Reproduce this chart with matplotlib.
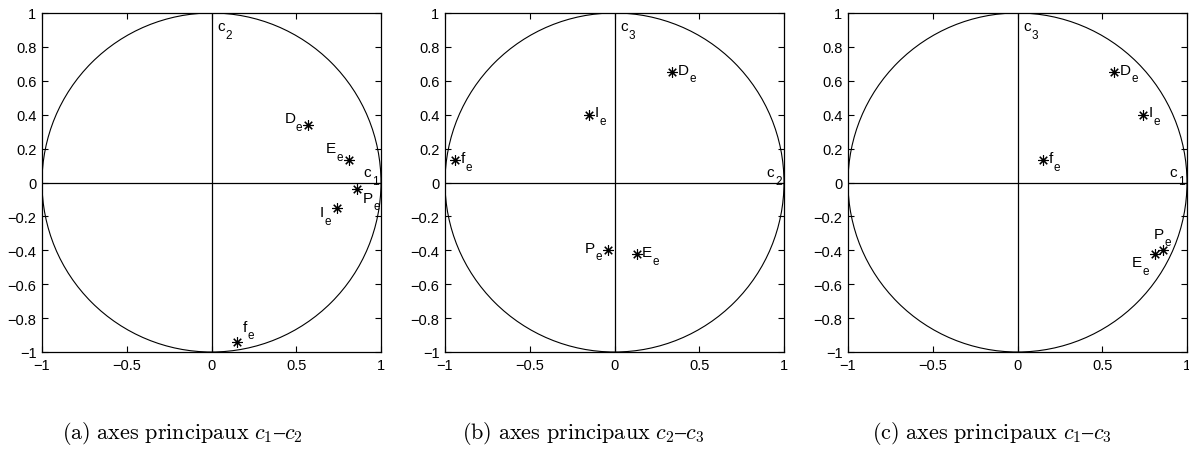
import matplotlib
matplotlib.use("Agg")
import matplotlib.pyplot as plt
from matplotlib.patches import Circle

plt.rcParams['font.family'] = ['Liberation Sans', 'DejaVu Sans']

# coordinates of the variables on the principal axes
names = ['D', 'E', 'P', 'I', 'f']
c1 = [0.57, 0.81, 0.86, 0.74, 0.15]
c2 = [0.34, 0.13, -0.04, -0.15, -0.94]
c3 = [0.65, -0.42, -0.40, 0.40, 0.13]

xticks = [-1, -0.5, 0, 0.5, 1]
yticks = [-1, -0.8, -0.6, -0.4, -0.2, 0, 0.2, 0.4, 0.6, 0.8, 1]

panels = [
    (c1, c2, ('c', '1'), ('c', '2'), '(a)', 'c_1', 'c_2'),
    (c2, c3, ('c', '2'), ('c', '3'), '(b)', 'c_2', 'c_3'),
    (c1, c3, ('c', '1'), ('c', '3'), '(c)', 'c_1', 'c_3'),
]

# label offsets in points (dx, dy, ha) for each panel / variable
offsets = [
    {'D': (-4, 5, 'right'), 'E': (-4, 9, 'right'),
     'P': (4, -6, 'left'), 'I': (-4, -3, 'right'),
     'f': (4, 11, 'left')},
    {'D': (4, 2, 'left'), 'E': (4, 1, 'left'),
     'P': (-4, 2, 'right'), 'I': (4, 2, 'left'),
     'f': (4, 2, 'left')},
    {'D': (4, 2, 'left'), 'E': (-4, -6, 'right'),
     'P': (-7, 12, 'left'), 'I': (4, 2, 'left'),
     'f': (4, 2, 'left')},
]

MAIN, SUB = 11, 8.5
SUBW = 0.556 * SUB


def sublabel(ax, main, sub, xy, dx, dy, ha, coords='data'):
    # letter with a dropped subscript, MATLAB style
    if ha == 'right':
        dx = dx - SUBW - 0.5
    t = ax.annotate(main, xy, xycoords=coords, xytext=(dx, dy),
                    textcoords='offset points', ha=ha, va='center',
                    fontsize=MAIN)
    ax.annotate(sub, (1, 0), xycoords=t, xytext=(0.5, 3),
                textcoords='offset points', ha='left', va='top',
                fontsize=SUB)


fig = plt.figure(figsize=(11.89, 4.52), dpi=100)
W, H = 1189, 452
lefts = [42, 445, 848]
axw, axh = 339, 339
top = 14
cap_x = [62, 462, 872]

for i, (xs, ys, xl, yl, tag, a, b) in enumerate(panels):
    ax = fig.add_axes([lefts[i] / W, 1 - (top + axh) / H, axw / W, axh / H])
    ax.add_patch(Circle((0, 0), 1, fill=False, color='black', lw=0.8))
    ax.axhline(0, color='black', lw=0.9)
    ax.axvline(0, color='black', lw=0.9)
    ax.plot(xs, ys, linestyle='none', marker=(8, 2, 0), color='black',
            markersize=7.5, markeredgewidth=0.8)
    for n, x, y in zip(names, xs, ys):
        dx, dy, ha = offsets[i][n]
        sublabel(ax, n, 'e', (x, y), dx, dy, ha)
    # axis names: top of the vertical line and end of the horizontal one
    sublabel(ax, yl[0], yl[1], (0.518, 0.962), 0, 0, 'left', 'axes fraction')
    sublabel(ax, xl[0], xl[1], (0.993, 0.53), 0, 0, 'right', 'axes fraction')
    ax.set_xlim(-1, 1)
    ax.set_ylim(-1, 1)
    ax.set_xticks(xticks)
    ax.set_yticks(yticks)
    ax.set_xticklabels(['\u22121', '\u22120.5', '0', '0.5', '1'])
    ax.set_yticklabels([('%g' % t).replace('-', '\u2212') for t in yticks])
    ax.tick_params(direction='in', top=True, right=True, length=4,
                   width=0.8, labelsize=10.5, pad=4)
    for s in ax.spines.values():
        s.set_linewidth(0.9)
    fig.text(cap_x[i] / W, 1 - 434 / H,
             r'$\mathrm{%s\ axes\ principaux}\ %s\mathrm{–}%s$' % (tag, a, b),
             ha='left', va='center', fontsize=16, math_fontfamily='cm')

fig.savefig('out.png', dpi=100)
